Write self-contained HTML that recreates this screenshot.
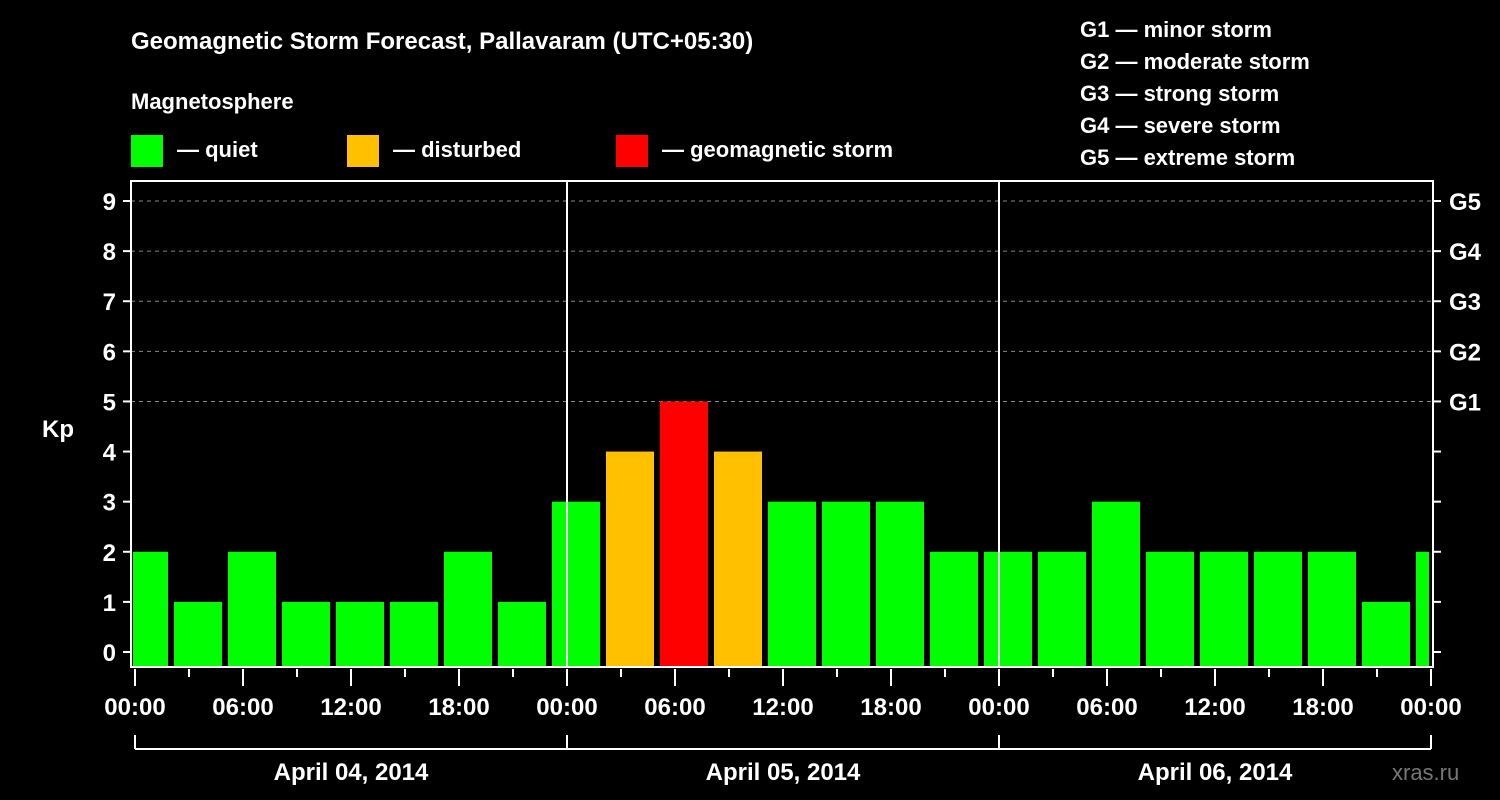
<!DOCTYPE html>
<html><head><meta charset="utf-8"><style>
html,body{margin:0;padding:0;background:#000;}
svg{display:block;font-family:"Liberation Sans",sans-serif;font-weight:bold;}
</style></head><body>
<svg id="chart" width="1500" height="800" viewBox="0 0 1500 800" xmlns="http://www.w3.org/2000/svg">
<rect width="1500" height="800" fill="#000"/>
<text x="131" y="49" fill="#fff" font-size="24">Geomagnetic Storm Forecast, Pallavaram (UTC+05:30)</text>
<text x="131" y="109" fill="#fff" font-size="22">Magnetosphere</text>
<g><rect x="131" y="135" width="32" height="32" fill="#00ff00"/><text x="177" y="157" fill="#fff" font-size="22">— quiet</text></g>
<g><rect x="347" y="135" width="32" height="32" fill="#ffc000"/><text x="393" y="157" fill="#fff" font-size="22">— disturbed</text></g>
<g><rect x="616" y="135" width="32" height="32" fill="#ff0000"/><text x="662" y="157" fill="#fff" font-size="22">— geomagnetic storm</text></g>
<g fill="#fff" font-size="22">
<text x="1080" y="37">G1 — minor storm</text>
<text x="1080" y="69">G2 — moderate storm</text>
<text x="1080" y="101">G3 — strong storm</text>
<text x="1080" y="133">G4 — severe storm</text>
<text x="1080" y="165">G5 — extreme storm</text>
</g>
<text x="42" y="437" fill="#fff" font-size="24">Kp</text>
<text x="1392" y="780" fill="#777" font-size="22" font-weight="normal">xras.ru</text>
<defs><clipPath id="pc"><rect x="133" y="182" width="1296" height="485"/></clipPath></defs>
<g id="grid"></g>
<g id="bars" clip-path="url(#pc)"></g>
<g id="axes"></g>
</svg>
<script>
const kpValues=[2,1,2,1,1,1,2,1,3,4,5,4,3,3,3,2,2,2,3,2,2,2,2,1,2];
const dayLabels=["April 04, 2014","April 05, 2014","April 06, 2014"];
const timeLabels=["00:00","06:00","12:00","18:00","00:00","06:00","12:00","18:00","00:00","06:00","12:00","18:00","00:00"];
const gLabels=["G1","G2","G3","G4","G5"];
const yTicks=[0,1,2,3,4,5,6,7,8,9];
const NS="http://www.w3.org/2000/svg";
const x0=135,pxh=18;
const X=h=>x0+h*pxh;
const Y=v=>652-v*50.11;
const firstSlotHour=-1;
function mk(t,a,p){const e=document.createElementNS(NS,t);for(const k in a)e.setAttribute(k,a[k]);p.appendChild(e);return e;}
const grid=document.getElementById('grid'),bars=document.getElementById('bars'),axes=document.getElementById('axes');
for(let v=5;v<=9;v++){
 const l=mk('line',{x1:131,x2:1433,y1:Y(v),y2:Y(v),stroke:'#888','stroke-dasharray':'4,4','stroke-width':1},grid);
 
 
}
kpValues.forEach((v,i)=>{
 const s=X(firstSlotHour+3*i);
 const c=v>=5?'#ff0000':(v>=4?'#ffc000':'#00ff00');
 const r=mk('rect',{x:s+3,y:Y(v),width:48,height:667-Y(v),fill:c},bars);
 
 
});
// frame
const f=mk('rect',{x:131,y:181,width:1302,height:486,fill:'none',stroke:'#fff','stroke-width':2},axes);


[24,48].forEach(h=>{
 const l=mk('line',{x1:X(h),x2:X(h),y1:181,y2:667,stroke:'#fff','stroke-width':2},axes);
 
 
});
yTicks.forEach(v=>{
 mk('line',{x1:123,x2:131,y1:Y(v),y2:Y(v),stroke:'#fff','stroke-width':2},axes);
 mk('line',{x1:1433,x2:1441,y1:Y(v),y2:Y(v),stroke:'#fff','stroke-width':2},axes);
 const t=mk('text',{x:116,y:Y(v)+9,fill:'#fff','font-size':24,'text-anchor':'end'},axes);
 t.textContent=v;
 
 
});
gLabels.forEach((g,i)=>{
 const t=mk('text',{x:1449,y:Y(5+i)+9,fill:'#fff','font-size':24},axes);
 t.textContent=g;
 
 
});
for(let h=0;h<=72;h+=3){
 const major=h%6===0;
 mk('line',{x1:X(h),x2:X(h),y1:669,y2:major?686:677,stroke:'#fff','stroke-width':2},axes);
}
timeLabels.forEach((s,i)=>{
 const t=mk('text',{x:X(i*6),y:715,fill:'#fff','font-size':24,'text-anchor':'middle'},axes);
 t.textContent=s;
 
 
});
mk('line',{x1:X(0),x2:X(72),y1:749,y2:749,stroke:'#fff','stroke-width':2},axes);
for(let d=0;d<=3;d++) mk('line',{x1:X(d*24),x2:X(d*24),y1:735,y2:749,stroke:'#fff','stroke-width':2},axes);
dayLabels.forEach((s,i)=>{
 const t=mk('text',{x:X(i*24+12),y:780,fill:'#fff','font-size':24,'text-anchor':'middle'},axes);
 t.textContent=s;
 
 
});
</script>
</body></html>
